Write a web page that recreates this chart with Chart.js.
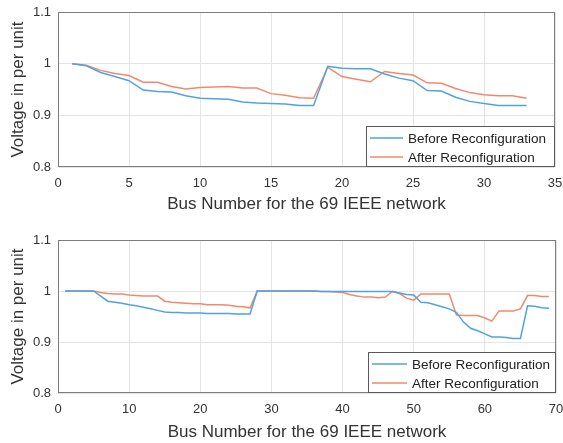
<!DOCTYPE html>
<html>
<head>
<meta charset="utf-8">
<script src="https://cdn.jsdelivr.net/npm/chart.js@4.4.1/dist/chart.umd.min.js"></script>
<style>
  html, body { margin: 0; padding: 0; background: #fff; }
  #wrap { position: relative; width: 563px; height: 443px; overflow: hidden; }
  canvas { position: absolute; left: 0; }
  #c33 { top: 0; }
  #c69 { top: 222px; }
</style>
</head>
<body>
<div id="wrap">
  <canvas id="c33" width="563" height="221"></canvas>
  <canvas id="c69" width="563" height="221"></canvas>
</div>
<script>
// --- Data: 33 bus network (top plot) ---
const buses33 = Array.from({ length: 33 }, (_, i) => i + 1);
const before33 = [1.000, 0.996, 0.983, 0.975, 0.967, 0.949, 0.946, 0.945, 0.938, 0.933,
                  0.932, 0.931, 0.926, 0.924, 0.923, 0.922, 0.919, 0.919, 0.995, 0.991,
                  0.990, 0.990, 0.980, 0.972, 0.967, 0.948, 0.947, 0.935, 0.927, 0.923,
                  0.919, 0.919, 0.919];
const after33 = [1.000, 0.997, 0.987, 0.981, 0.977, 0.964, 0.964, 0.956, 0.951, 0.954,
                 0.955, 0.956, 0.953, 0.953, 0.942, 0.939, 0.934, 0.933, 0.993, 0.975,
                 0.970, 0.965, 0.985, 0.981, 0.978, 0.963, 0.962, 0.952, 0.944, 0.940,
                 0.938, 0.938, 0.933];

// --- Data: 69 bus network (bottom plot) ---
const buses69 = Array.from({ length: 69 }, (_, i) => i + 1);
const before69 = [1.000, 1.000, 1.000, 1.000, 1.000, 0.990, 0.980, 0.978, 0.976, 0.973,
                  0.971, 0.968, 0.965, 0.962, 0.959, 0.958, 0.958, 0.957, 0.957, 0.957,
                  0.956, 0.956, 0.956, 0.956, 0.955, 0.955, 0.955, 1.000, 1.000, 1.000,
                  1.000, 1.000, 1.000, 1.000, 1.000, 1.000, 0.999, 0.999, 0.999, 0.999,
                  0.999, 0.999, 0.999, 0.999, 0.999, 0.999, 0.999, 0.996, 0.993, 0.992,
                  0.978, 0.977, 0.973, 0.969, 0.965, 0.958, 0.939, 0.927, 0.922, 0.916,
                  0.910, 0.910, 0.909, 0.907, 0.907, 0.971, 0.970, 0.967, 0.966];
const after69 = [1.000, 1.000, 1.000, 1.000, 1.000, 0.997, 0.995, 0.994, 0.994, 0.992,
                 0.991, 0.990, 0.990, 0.990, 0.980, 0.978, 0.977, 0.976, 0.975, 0.975,
                 0.973, 0.973, 0.973, 0.972, 0.970, 0.969, 0.967, 1.000, 1.000, 1.000,
                 1.000, 1.000, 1.000, 1.000, 1.000, 1.000, 0.999, 0.999, 0.998, 0.997,
                 0.993, 0.990, 0.988, 0.988, 0.987, 0.988, 0.999, 0.995, 0.986, 0.982,
                 0.994, 0.994, 0.994, 0.994, 0.994, 0.953, 0.952, 0.952, 0.952, 0.947,
                 0.941, 0.961, 0.961, 0.961, 0.965, 0.991, 0.991, 0.989, 0.989];

const seriesLabels = ["Before Reconfiguration", "After Reconfiguration"];
const yTicks = [0.8, 0.9, 1.0, 1.1];
const xTitle = "Bus Number for the 69 IEEE network";
const yTitle = "Voltage in per unit";

const BLUE = "#4fa3de";
const ORANGE = "#f3896b";
const FONT = "'Liberation Sans', Arial, Helvetica, sans-serif";
const TEXT = "#333333";

// --- Frame + legend inside plot (MATLAB style) ---
const framePlugin = {
  id: "frame",
  afterDraw(chart, args, opts) {
    const ctx = chart.ctx;
    const a = chart.chartArea;
    ctx.save();
    ctx.strokeStyle = "#7d7d7d";
    ctx.lineWidth = 1;
    ctx.strokeRect(Math.round(a.left) + 0.5, Math.round(a.top) + 0.5,
                   Math.round(a.width) - 1, Math.round(a.height) - 1);

    // legend box at bottom-right
    const w = opts.w, h = opts.h;
    const x0 = Math.round(a.right) - w, y0 = Math.round(a.bottom) - h;
    ctx.fillStyle = "#fff";
    ctx.fillRect(x0, y0, w, h);
    ctx.strokeStyle = "#5a5a5a";
    ctx.strokeRect(x0 + 0.5, y0 + 0.5, w - 1, h - 1);
    ctx.font = "13.5px " + FONT;
    ctx.textBaseline = "middle";
    chart.data.datasets.forEach((ds, i) => {
      const yy = y0 + opts.rowTop + i * opts.rowGap;
      ctx.strokeStyle = ds.borderColor;
      ctx.lineWidth = 1.5;
      ctx.beginPath();
      ctx.moveTo(x0 + opts.lineX, yy);
      ctx.lineTo(x0 + opts.lineX + opts.lineLen, yy);
      ctx.stroke();
      ctx.fillStyle = "#222";
      ctx.fillText(ds.label, x0 + opts.textX, yy + 1);
    });
    ctx.restore();
  }
};

function makeChart(id, buses, before, after, cfg) {
  const toPts = arr => arr.map((v, i) => ({ x: buses[i], y: v }));
  return new Chart(document.getElementById(id), {
    type: "line",
    data: {
      datasets: [
        { label: seriesLabels[0], data: toPts(before), borderColor: BLUE, borderWidth: 1.5,
          pointRadius: 0, tension: 0, fill: false },
        { label: seriesLabels[1], data: toPts(after), borderColor: ORANGE, borderWidth: 1.5,
          pointRadius: 0, tension: 0, fill: false }
      ]
    },
    options: {
      responsive: false,
      animation: false,
      layout: { padding: { top: cfg.padTop, right: cfg.padRight, left: 0, bottom: 0 } },
      plugins: {
        legend: { display: false },
        tooltip: { enabled: false },
        frame: cfg.legend
      },
      scales: {
        x: {
          type: "linear",
          min: 0, max: cfg.xMax,
          afterFit: s => { s.height = cfg.xHeight; s.paddingLeft = 0; s.paddingRight = 0; },
          grid: { color: "#e4e4e4", drawTicks: false },
          border: { display: false },
          ticks: { stepSize: cfg.xStep, padding: 9, color: TEXT, font: { family: FONT, size: 13 } },
          title: { display: true, text: xTitle, color: TEXT, font: { family: FONT, size: 17 },
                   padding: { top: 0, bottom: cfg.titlePad } }
        },
        y: {
          min: 0.8, max: 1.1,
          afterFit: s => { s.width = 58; s.paddingTop = 0; s.paddingBottom = 0; },
          afterBuildTicks: s => { s.ticks = yTicks.map(v => ({ value: v })); },
          grid: { color: "#e4e4e4", drawTicks: false },
          border: { display: false },
          ticks: { padding: 7, color: TEXT, font: { family: FONT, size: 13 },
                   callback: v => String(+v.toFixed(1)) },
          title: { display: true, text: yTitle, color: TEXT, font: { family: FONT, size: 17 },
                   padding: { top: 8, bottom: 0 } }
        }
      }
    },
    plugins: [framePlugin]
  });
}

makeChart("c33", buses33, before33, after33, {
  xMax: 35, xStep: 5, padTop: 12, padRight: 8, xHeight: 54, titlePad: 6,
  legend: { w: 189, h: 41, lineX: 4, lineLen: 33, textX: 42, rowTop: 12, rowGap: 19 }
});
makeChart("c69", buses69, before69, after69, {
  xMax: 70, xStep: 10, padTop: 18, padRight: 7, xHeight: 50, titlePad: 0,
  legend: { w: 188, h: 41, lineX: 4, lineLen: 35, textX: 44, rowTop: 12, rowGap: 19 }
});
</script>
</body>
</html>
